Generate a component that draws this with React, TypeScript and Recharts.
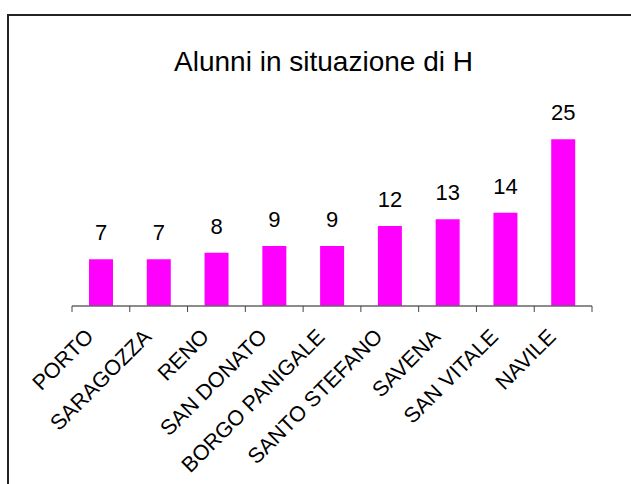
import React from 'react';
import { BarChart, Bar, XAxis, YAxis, LabelList } from 'recharts';

const quartieri = [
  'PORTO',
  'SARAGOZZA',
  'RENO',
  'SAN DONATO',
  'BORGO PANIGALE',
  'SANTO STEFANO',
  'SAVENA',
  'SAN VITALE',
  'NAVILE'
];
const alunni = [7, 7, 8, 9, 9, 12, 13, 14, 25];

const chartData = quartieri.map((name, i) => ({ name, value: alunni[i] }));

const font = '"Liberation Sans", Arial, sans-serif';

// etichette ruotate + tacche sui confini delle categorie
const QuartiereTick = (props: any) => {
  const { x, y, payload, index, width, visibleTicksCount } = props;
  const band = width / visibleTicksCount;
  const left = x - band / 2;
  const tx = x - 6;
  const ty = y + 32;
  return (
    <g>
      <line x1={left} y1={y} x2={left} y2={y + 6} stroke="#444" strokeWidth={1} />
      {index === visibleTicksCount - 1 && (
        <line x1={x + band / 2} y1={y} x2={x + band / 2} y2={y + 6} stroke="#444" strokeWidth={1} />
      )}
      <text
        x={tx}
        y={ty}
        transform={`rotate(-45, ${tx}, ${ty})`}
        textAnchor="end"
        fontSize={21.5}
        fontFamily={font}
        fill="#000"
      >
        {payload.value}
      </text>
    </g>
  );
};

const App: React.FC = () => {
  return (
    <div style={{ position: 'relative', width: 631, height: 484, background: '#fff', overflow: 'hidden' }}>
      <style>{'body { margin: 0; }'}</style>
      <div
        style={{
          position: 'absolute',
          left: 7,
          top: 14,
          width: 700,
          height: 600,
          borderTop: '2px solid #222',
          borderLeft: '2px solid #222'
        }}
      />
      <div
        style={{
          position: 'absolute',
          left: 0,
          width: 647,
          top: 48,
          textAlign: 'center',
          fontFamily: font,
          fontSize: 28,
          lineHeight: '28px',
          color: '#000'
        }}
      >
        Alunni in situazione di H
      </div>
      <div style={{ position: 'absolute', left: 0, top: 0 }}>
        <BarChart
          width={631}
          height={484}
          data={chartData}
          margin={{ top: 106, right: 39, bottom: 148, left: 72 }}
        >
          <XAxis
            dataKey="name"
            interval={0}
            height={30}
            tickSize={0}
            tickMargin={0}
            tickLine={false}
            axisLine={{ stroke: '#666', strokeWidth: 1.5 }}
            tick={<QuartiereTick />}
          />
          <YAxis hide domain={[0, 30]} />
          <Bar dataKey="value" fill="#FF00FF" barSize={24} isAnimationActive={false}>
            <LabelList dataKey="value" position="top" offset={19} fill="#000" fontSize={22} fontFamily={font} />
          </Bar>
        </BarChart>
      </div>
    </div>
  );
};

export default App;
